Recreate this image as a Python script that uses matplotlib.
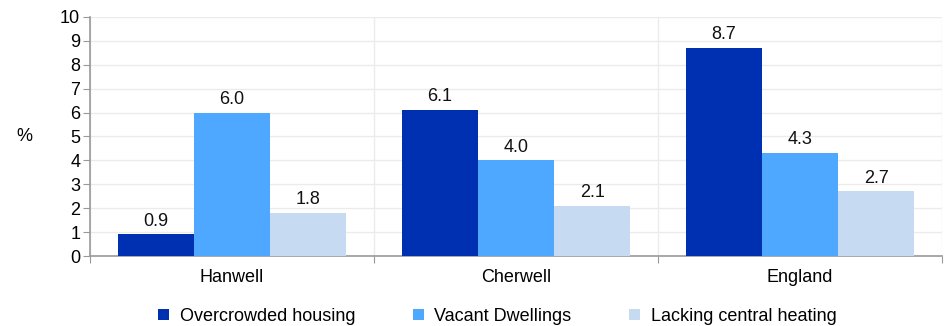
import matplotlib.pyplot as plt
import numpy as np

plt.rcParams['font.family'] = ['Liberation Sans', 'DejaVu Sans']

areas = ['Hanwell', 'Cherwell', 'England']
series = ['Overcrowded housing', 'Vacant Dwellings', 'Lacking central heating']
overcrowded = [0.9, 6.1, 8.7]
vacant = [6.0, 4.0, 4.3]
no_heating = [1.8, 2.1, 2.7]
colors = ['#0030B2', '#4FA8FF', '#C6DAF1']

fig = plt.figure(figsize=(9.49, 3.26), dpi=100)
ax = fig.add_axes([0.0948, 0.2147, 0.898, 0.7332])

x = np.arange(len(areas)) + 0.5
w = 0.268
for k, (vals, name) in enumerate(zip([overcrowded, vacant, no_heating], series)):
    pos = x + (k - 1) * w
    ax.bar(pos, vals, width=w, color=colors[k], label=name, zorder=3)
    for p, v in zip(pos, vals):
        ax.text(p, v + 0.2, '%.1f' % v, ha='center', va='bottom', fontsize=13, color='#111111')

ax.set_xlim(0, 3)
ax.set_ylim(0, 10)
ax.set_yticks(range(0, 11))
ax.set_xticks([0, 1, 2, 3])
ax.set_xticklabels([])
ax.set_xticks(x, minor=True)
ax.set_xticklabels(areas, minor=True, fontsize=13)
ax.tick_params(axis='x', which='minor', length=0, pad=9)
ax.tick_params(axis='x', which='major', length=5, color='#999999', direction='out')
ax.tick_params(axis='y', length=5, color='#999999', labelsize=13, pad=2)
ax.grid(True, which='major', color='#EBEBEB', linewidth=1, zorder=0)

for s in ['top', 'right']:
    ax.spines[s].set_visible(False)
for s in ['left', 'bottom']:
    ax.spines[s].set_color('#999999')
    ax.spines[s].set_linewidth(1.2)

ax.set_ylabel('%', rotation=0, fontsize=13, labelpad=26, va='center')

ax.legend(loc='upper center', bbox_to_anchor=(0.478, -0.15), ncol=3, frameon=False,
          fontsize=13, handlelength=0.6, handleheight=0.6, columnspacing=3.2,
          handletextpad=0.6)

plt.savefig('out.png', dpi=100)
plt.close()
